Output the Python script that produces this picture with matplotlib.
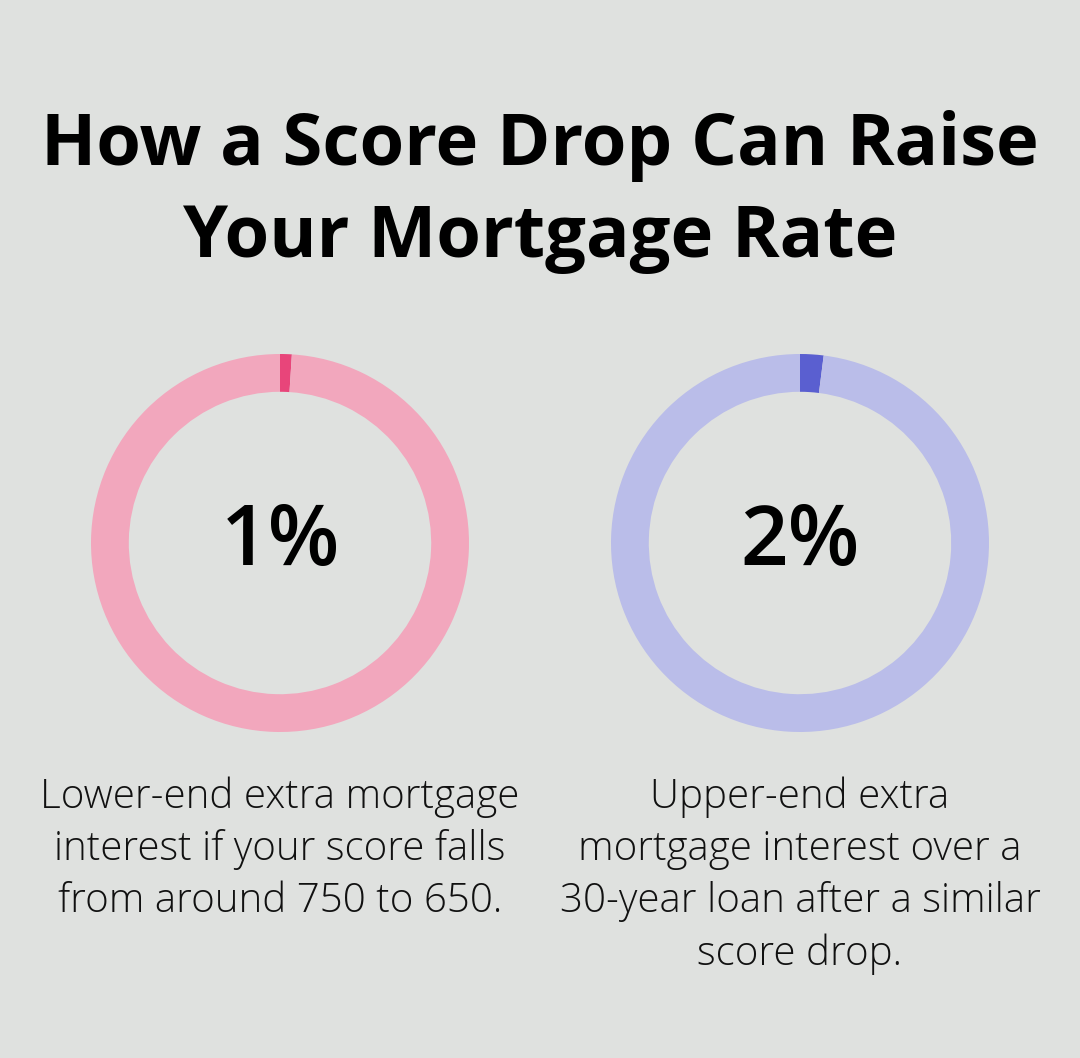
import matplotlib
matplotlib.use('Agg')
import matplotlib.pyplot as plt

BG = '#dfe1df'
title = "How a Score Drop Can Raise\nYour Mortgage Rate"
values = [1, 2]
labels = ['1%', '2%']
descs = ["Lower-end extra mortgage\ninterest if your score falls\nfrom around 750 to 650.",
         "Upper-end extra\nmortgage interest over a\n30-year loan after a similar\nscore drop."]
hi_colors = ['#e8457a', '#5a5fd0']
lo_colors = ['#f2a7bd', '#babde9']
centers_x = [280, 800]

W, H = 1080, 1058
fig = plt.figure(figsize=(W / 100, H / 100), dpi=100)
fig.patch.set_facecolor(BG)
plt.rcParams['font.family'] = ['Open Sans', 'DejaVu Sans']

fig.text(0.5, 1 - 192 / H, title, ha='center', va='center', fontsize=52,
         fontweight='bold', color='#000000', linespacing=1.37)

R = 189
for v, lab, d, hc, lc, cx in zip(values, labels, descs, hi_colors, lo_colors, centers_x):
    ax = fig.add_axes([(cx - R) / W, (H - 543 - R) / H, 2 * R / W, 2 * R / H])
    ax.pie([v, 100 - v], colors=[hc, lc], startangle=90, counterclock=False,
           radius=1, wedgeprops=dict(width=0.2, linewidth=0))
    ax.set_xlim(-1, 1)
    ax.set_ylim(-1, 1)
    ax.set_aspect('equal')
    ax.axis('off')
    ax.text(0, 0, lab, ha='center', va='center', fontsize=60, fontweight='semibold', color='#000000')
    fig.text(cx / W, 1 - 776 / H, d, ha='center', va='top', fontsize=29,
             fontweight='light', color='#111111', linespacing=1.36)

fig.savefig('out.png', dpi=100, facecolor=BG)
